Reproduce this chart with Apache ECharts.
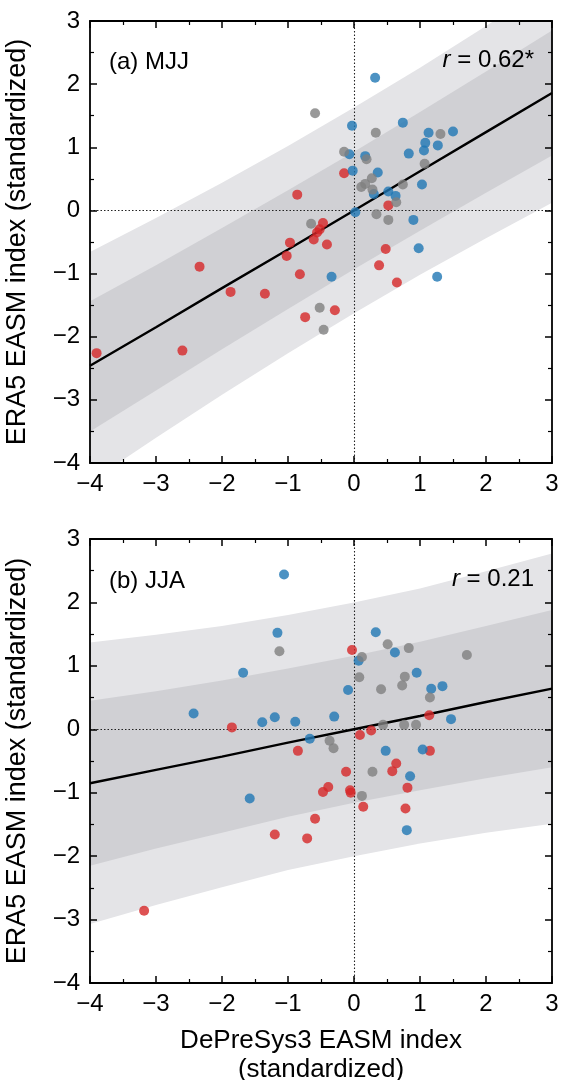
<!DOCTYPE html>
<html>
<head>
<meta charset="utf-8">
<title>EASM index scatter</title>
<script src="https://cdn.jsdelivr.net/npm/echarts@6/dist/echarts.min.js"></script>
<style>
  html, body { margin: 0; padding: 0; background: #fff; }
  #main { width: 561px; height: 1080px; }
</style>
</head>
<body>
<div id="main"></div>
<script>
const xGrid = [-4, -3, -2, -1, 0, 1, 2, 3]

// (a) MJJ
const mjjFit = [-2.46, -1.85, -1.23, -0.62, 0.00, 0.62, 1.24, 1.86]
const mjjOuterHi = [-0.66, -0.12, 0.44, 1.02, 1.63, 2.26, 2.92, 3.60]
const mjjOuterLo = [-4.30, -3.60, -2.92, -2.26, -1.63, -1.02, -0.44, 0.12]
const mjjInnerHi = [-1.44, -0.87, -0.28, 0.32, 0.93, 1.56, 2.20, 2.85]
const mjjInnerLo = [-3.50, -2.85, -2.20, -1.56, -0.93, -0.32, 0.28, 0.87]
const mjjRed = [[-0.15, 0.59], [0.52, 0.08], [-0.86, 0.25], [-0.47, -0.20], [-0.56, -0.35],
  [-0.52, -0.30], [-0.61, -0.46], [-0.97, -0.51], [-0.41, -0.54], [-1.02, -0.72],
  [-0.82, -1.01], [-2.34, -0.89], [-1.87, -1.29], [-1.35, -1.32], [-0.74, -1.69],
  [-0.29, -1.58], [-3.90, -2.26], [-2.60, -2.22], [0.48, -0.61], [0.38, -0.87], [0.65, -1.14]]
const mjjBlue = [[0.32, 2.10], [-0.03, 1.34], [0.74, 1.39], [1.13, 1.23], [1.50, 1.25],
  [1.08, 1.07], [1.27, 1.03], [1.06, 0.95], [0.83, 0.90], [-0.07, 0.89], [0.17, 0.86],
  [-0.02, 0.63], [0.36, 0.60], [1.03, 0.41], [0.52, 0.30], [0.30, 0.26], [0.63, 0.23],
  [0.02, -0.03], [0.90, -0.15], [0.98, -0.60], [1.26, -1.05], [-0.34, -1.05]]
const mjjGray = [[-0.59, 1.54], [0.33, 1.23], [1.31, 1.21], [-0.15, 0.93], [0.19, 0.81],
  [1.07, 0.74], [0.27, 0.51], [0.17, 0.42], [0.11, 0.37], [0.28, 0.33], [0.74, 0.41],
  [0.64, 0.13], [0.34, -0.06], [0.52, -0.15], [-0.65, -0.21], [-0.52, -1.54], [-0.46, -1.89]]

// (b) JJA
const jjaFit = [-0.85, -0.64, -0.43, -0.21, 0.00, 0.21, 0.43, 0.64]
const jjaOuterHi = [1.37, 1.49, 1.63, 1.80, 2.00, 2.22, 2.49, 2.77]
const jjaOuterLo = [-3.07, -2.77, -2.49, -2.22, -2.00, -1.80, -1.63, -1.49]
const jjaInnerHi = [0.45, 0.60, 0.77, 0.96, 1.16, 1.38, 1.63, 1.88]
const jjaInnerLo = [-2.15, -1.88, -1.63, -1.38, -1.16, -0.96, -0.77, -0.60]
const jjaRed = [[-1.85, 0.03], [-0.85, -0.34], [-0.03, 1.25], [1.14, 0.22], [0.26, -0.02],
  [0.09, -0.09], [1.15, -0.34], [-0.12, -0.67], [-0.39, -0.91], [-0.47, -0.99],
  [-0.06, -0.96], [-0.05, -1.00], [0.14, -1.22], [-0.59, -1.41], [-1.20, -1.66],
  [-0.71, -1.72], [0.64, -0.54], [0.58, -0.66], [0.81, -0.92], [0.78, -1.25], [-3.18, -2.86]]
const jjaBlue = [[-1.06, 2.44], [-1.16, 1.52], [-1.68, 0.89], [-2.43, 0.25], [-1.39, 0.11],
  [-1.20, 0.19], [-0.89, 0.12], [-0.67, -0.15], [0.33, 1.53], [0.62, 1.21], [0.07, 1.08],
  [0.95, 0.89], [-0.09, 0.62], [1.17, 0.64], [1.34, 0.68], [-0.30, 0.20], [1.47, 0.16],
  [0.48, -0.34], [1.04, -0.32], [-1.58, -1.09], [0.85, -0.74], [0.80, -1.59]]
const jjaGray = [[-1.13, 1.23], [0.51, 1.34], [0.83, 1.28], [1.71, 1.17], [0.12, 1.14],
  [0.08, 0.82], [0.77, 0.83], [0.73, 0.69], [0.41, 0.63], [1.15, 0.50], [0.44, 0.07],
  [0.76, 0.07], [0.94, 0.07], [-0.37, -0.18], [-0.31, -0.30], [0.28, -0.67], [0.12, -1.05]]

const xTicks = [-4, -3, -2, -1, 0, 1, 2, 3]
const yTicks = [-4, -3, -2, -1, 0, 1, 2, 3]

const FONT = "'Liberation Sans', Arial, sans-serif"
const RED = '#d62728'
const BLUE = '#1f77b4'
const GRAY = '#7f7f7f'
const LIGHT = '#e4e4e7'
const DARK = '#d0d0d4'

const fmt = v => (v < 0 ? '\u2212' + Math.abs(v) : String(v))
const pairs = (xs, ys) => xs.map((x, i) => [x, ys[i]])

function xAx(grid, pos, labels) {
  return {
    type: 'value', gridIndex: grid, position: pos, z: 10,
    min: xTicks[0], max: xTicks[xTicks.length - 1], interval: 1,
    axisLine: {onZero: false, lineStyle: {color: '#000', width: 1.8}},
    axisTick: {inside: true, length: 7, lineStyle: {color: '#000', width: 1.5}},
    minorTick: {show: true, splitNumber: 2, length: 4, lineStyle: {color: '#000', width: 1.2}},
    splitLine: {show: false},
    axisLabel: {show: labels, color: '#000', fontSize: 24, fontFamily: FONT, margin: 9, formatter: fmt}
  }
}

function yAx(grid, pos, labels) {
  return {
    type: 'value', gridIndex: grid, position: pos, z: 10,
    min: yTicks[0], max: yTicks[yTicks.length - 1], interval: 1,
    axisLine: {onZero: false, lineStyle: {color: '#000', width: 1.8}},
    axisTick: {inside: true, length: 7, lineStyle: {color: '#000', width: 1.5}},
    minorTick: {show: true, splitNumber: 2, length: 4, lineStyle: {color: '#000', width: 1.2}},
    splitLine: {show: false},
    axisLabel: {show: labels, color: '#000', fontSize: 24, fontFamily: FONT, margin: 10, formatter: fmt}
  }
}

function panelSeries(k, fit, oHi, oLo, iHi, iLo, red, blue, gray) {
  const ax = {xAxisIndex: 2 * k, yAxisIndex: 2 * k}
  // each band edge is filled down to the axis bottom; later layers paint over earlier ones
  const edge = (ys, color, z) => ({
    ...ax, type: 'line', data: pairs(xGrid, ys), showSymbol: false, silent: true, z,
    lineStyle: {opacity: 0}, areaStyle: {color, opacity: 1, origin: 'start'}
  })
  const dot = (data, color) => ({
    ...ax, type: 'scatter', data, symbolSize: 10, z: 6,
    itemStyle: {color, opacity: 0.8}
  })
  return [
    edge(oHi, LIGHT, 1),
    edge(iHi, DARK, 2),
    edge(iLo, LIGHT, 3),
    edge(oLo, '#fff', 4),
    {
      ...ax, type: 'line', data: pairs(xGrid, fit), showSymbol: false, silent: true, z: 5,
      lineStyle: {color: '#000', width: 2.4},
      markLine: {
        silent: true, symbol: 'none', label: {show: false},
        lineStyle: {color: '#222', width: 1.1, type: [1.5, 2]},
        data: [{xAxis: 0}, {yAxis: 0}]
      }
    },
    dot(red, RED),
    dot(blue, BLUE),
    dot(gray, GRAY)
  ]
}

const chart = echarts.init(document.getElementById('main'), null, {renderer: 'canvas'})

const yName = 'ERA5 EASM index (standardized)'
const leftTop = yAx(0, 'left', true)
leftTop.name = yName
const leftBot = yAx(1, 'left', true)
leftBot.name = yName
;[leftTop, leftBot].forEach(a => {
  a.nameLocation = 'middle'
  a.nameGap = 59
  a.nameTextStyle = {color: '#000', fontSize: 27, fontFamily: FONT}
})
const bottomX = xAx(1, 'bottom', true)
bottomX.name = 'DePreSys3 EASM index\n(standardized)'
bottomX.nameLocation = 'middle'
bottomX.nameGap = 43
bottomX.nameTextStyle = {color: '#000', fontSize: 26, fontFamily: FONT, lineHeight: 29, verticalAlign: 'top'}

const titleStyle = {fontSize: 24, fontWeight: 'normal', fontFamily: FONT, color: '#000'}
const rStyle = {
  fontSize: 24, fontWeight: 'normal', fontFamily: FONT, color: '#000',
  rich: {i: {fontStyle: 'italic', fontWeight: 'normal', fontSize: 24, fontFamily: FONT, color: '#000'}}
}

const option = {
  animation: false,
  backgroundColor: '#fff',
  title: [
    {text: '(a) MJJ', left: 104, top: 45, textStyle: titleStyle},
    {text: '(b) JJA', left: 104, top: 564, textStyle: titleStyle},
    {text: '{i|r} = 0.62*', right: 22, top: 43, textStyle: rStyle},
    {text: '{i|r} = 0.21', right: 22, top: 562, textStyle: rStyle}
  ],
  grid: [
    {left: 90, top: 21, width: 462, height: 442, containLabel: false, outerBoundsMode: 'none'},
    {left: 90, top: 539, width: 462, height: 444, containLabel: false, outerBoundsMode: 'none'}
  ],
  xAxis: [
    xAx(0, 'bottom', true), xAx(0, 'top', false),
    bottomX, xAx(1, 'top', false)
  ],
  yAxis: [
    leftTop, yAx(0, 'right', false),
    leftBot, yAx(1, 'right', false)
  ],
  series: [
    ...panelSeries(0, mjjFit, mjjOuterHi, mjjOuterLo, mjjInnerHi, mjjInnerLo, mjjRed, mjjBlue, mjjGray),
    ...panelSeries(1, jjaFit, jjaOuterHi, jjaOuterLo, jjaInnerHi, jjaInnerLo, jjaRed, jjaBlue, jjaGray)
  ]
}

chart.setOption(option)
</script>
</body>
</html>
